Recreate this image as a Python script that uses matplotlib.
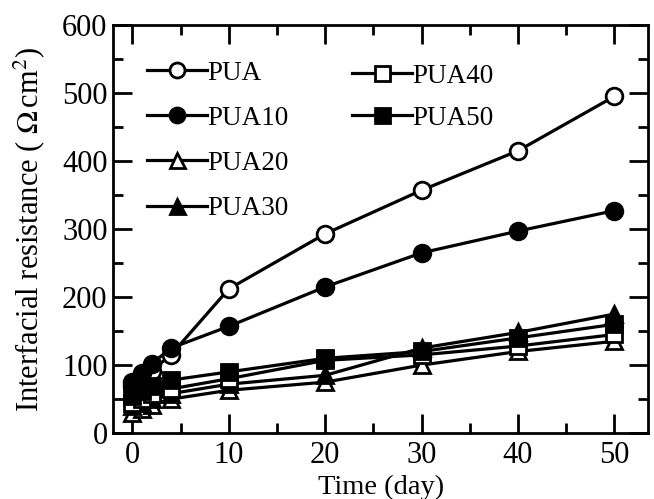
import numpy as np
import matplotlib
matplotlib.use("Agg")
import matplotlib.pyplot as plt
from matplotlib.ticker import MultipleLocator

# values
days = [0, 1, 2, 4, 10, 20, 30, 40, 50]
pua = [70, 82, 92, 115, 212, 293, 357, 415, 495]
pua10 = [75, 88, 102, 125, 157, 215, 265, 297, 327]
pua20 = [30, 35, 42, 50, 63, 75, 100, 120, 135]
pua30 = [40, 45, 50, 58, 72, 85, 125, 148, 175]
pua40 = [45, 50, 57, 65, 80, 107, 115, 128, 145]
pua50 = [55, 62, 70, 78, 90, 110, 120, 140, 160]

plt.rcParams["font.family"] = "Liberation Serif"
plt.rcParams["mathtext.fontset"] = "stix"

fig = plt.figure(figsize=(6.54, 4.99), dpi=100)
ax = fig.add_axes([0.173, 0.132, 0.818, 0.818])

style = dict(color="black", lw=2.3, ms=12, mew=2)
h1, = ax.plot(days, pua, marker="o", mfc="white", label="PUA", **style)
h2, = ax.plot(days, pua10, marker="o", mfc="black", label="PUA10", **style)
h3, = ax.plot(days, pua20, marker="^", mfc="white", label="PUA20", **style)
h4, = ax.plot(days, pua30, marker="^", mfc="black", label="PUA30", **style)
h5, = ax.plot(days, pua40, marker="s", mfc="white", label="PUA40", **style)
h6, = ax.plot(days, pua50, marker="s", mfc="black", label="PUA50", **style)

ax.set_xlim(-2, 53.5)
ax.set_ylim(0, 600)
ax.xaxis.set_major_locator(MultipleLocator(10))
ax.xaxis.set_minor_locator(MultipleLocator(5))
ax.yaxis.set_major_locator(MultipleLocator(100))
ax.yaxis.set_minor_locator(MultipleLocator(50))
ax.tick_params(which="both", direction="in", top=True, right=True, width=2, labelsize=22)
ax.tick_params(which="major", length=14)
ax.tick_params(which="minor", length=7)
ax.tick_params(axis="x", which="major", pad=6)
ax.tick_params(axis="y", which="major", pad=4)
for s in ax.spines.values():
    s.set_linewidth(2)

ax.set_xlabel("Time (day)", fontsize=20.5, labelpad=3)
ax.set_ylabel(r"Interfacial resistance ( $\Omega\,$cm$^2$)", fontsize=22, labelpad=11)

leg_kw = dict(frameon=False, fontsize=19.5, handlelength=2.2, handletextpad=0.02,
              borderpad=0, borderaxespad=0, loc="upper left", markerscale=0.9)
leg1 = ax.legend(handles=[h1, h2, h3, h4], bbox_to_anchor=(0.064, 0.912),
                 labelspacing=0.74, **leg_kw)
ax.add_artist(leg1)
ax.legend(handles=[h5, h6], bbox_to_anchor=(0.447, 0.905),
          labelspacing=0.63, **leg_kw)

fig.savefig("out.png", dpi=100)
